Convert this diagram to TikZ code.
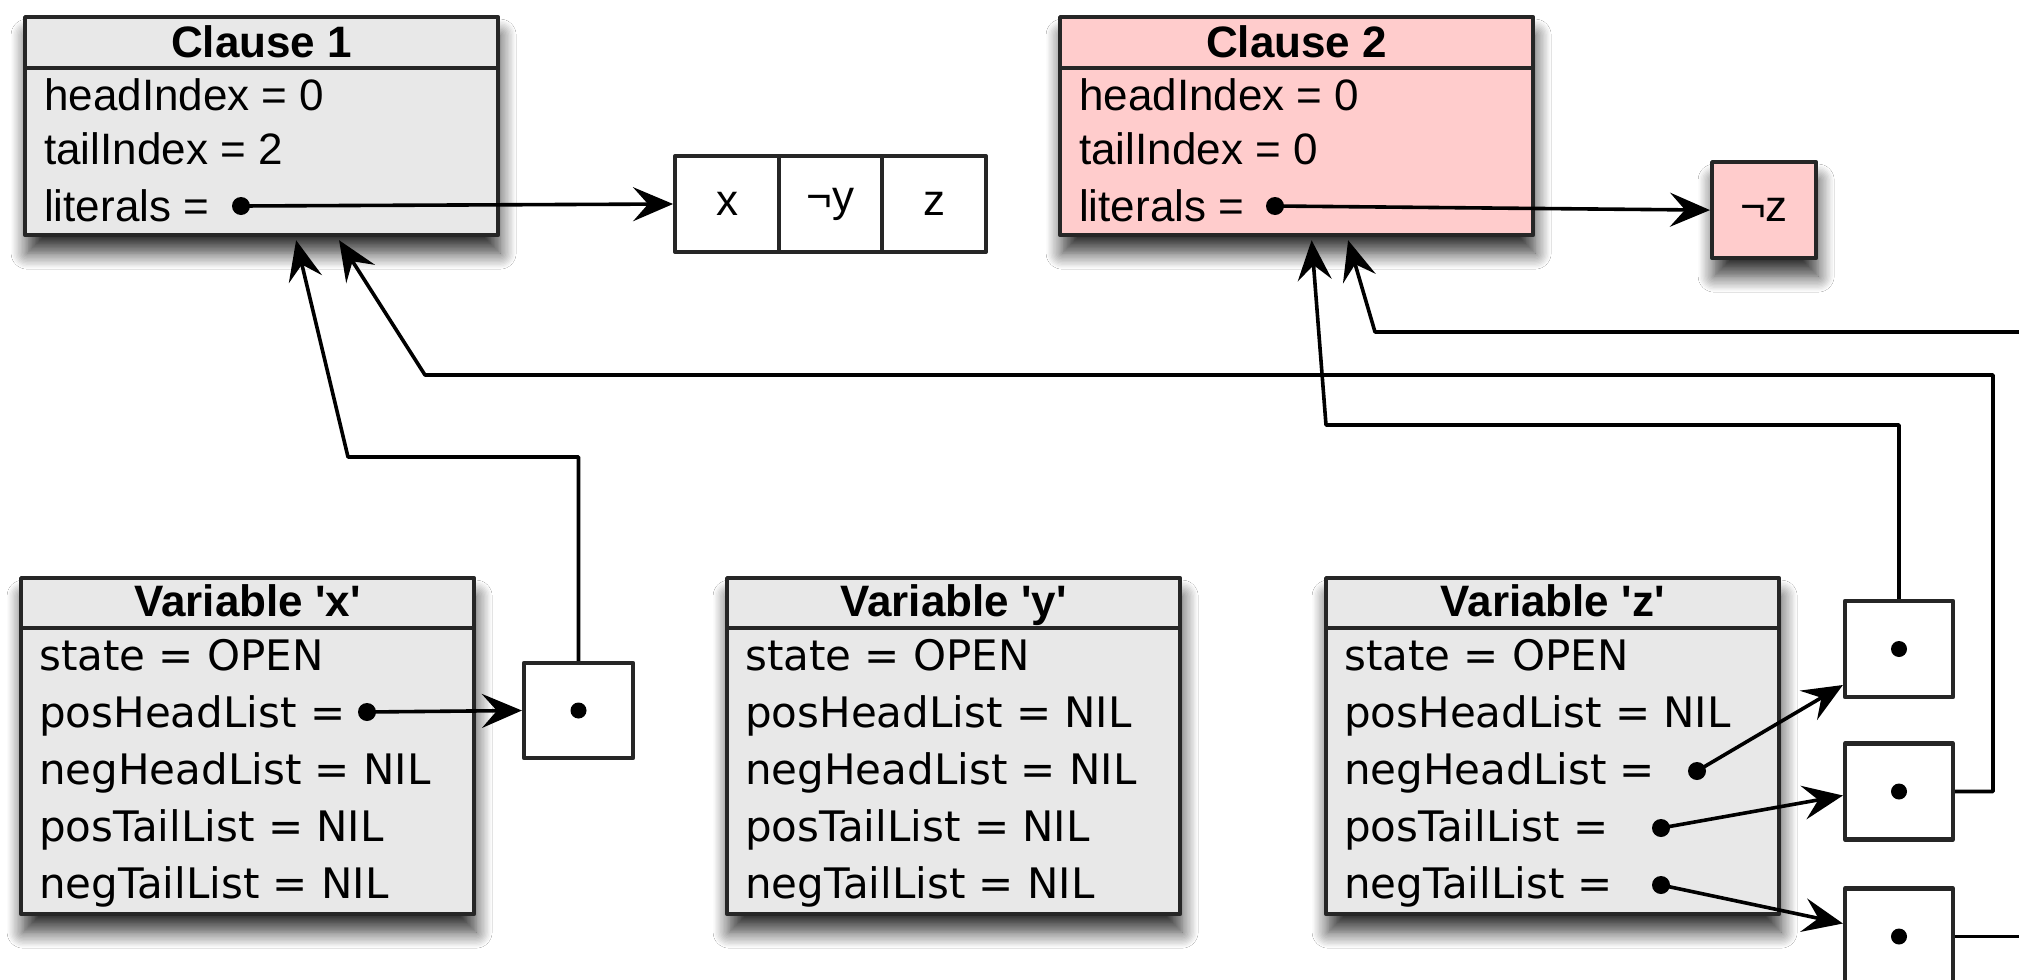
\documentclass[tikz,border=0pt]{standalone}
\usepackage{fontspec}
\setmainfont{Liberation Sans}[Ligatures=TeXOff]
\newfontfamily\varfont{DejaVu Sans}[Ligatures=TeXOff]
\usetikzlibrary{arrows.meta,shadows.blur}
\definecolor{boxgray}{HTML}{E8E8E8}
\definecolor{boxpink}{HTML}{FFCCCC}
\begin{document}
\begin{tikzpicture}[x=1pt,y=-1pt,line join=round,
  objbox/.style={draw=black!85, line width=4.2pt, anchor=north west, inner sep=0pt,
    blur shadow={shadow xshift=2pt, shadow yshift=-18pt, shadow blur radius=16pt, shadow blur steps=12, shadow opacity=80}},
  clausebox/.style={objbox, fill=boxgray, minimum width=473pt, minimum height=218pt},
  varbox/.style={objbox, fill=boxgray, minimum width=453pt, minimum height=336pt},
  ptrbox/.style={draw=black!85, line width=4.2pt, fill=white, minimum width=108pt, minimum height=96pt, inner sep=0pt},
  cellbox/.style={draw=black!85, line width=4.2pt, fill=white, minimum width=103.7pt, minimum height=96pt, inner sep=0pt, font=\fontsize{44}{50}\selectfont},
  dotnode/.style={circle, fill=black, inner sep=0pt, minimum size=18pt},
  ttl/.style={anchor=base, inner sep=0pt, font=\fontsize{44}{50}\selectfont\bfseries},
  crow/.style={anchor=base west, inner sep=0pt, font=\fontsize{44}{50}\selectfont},
  vrow/.style={anchor=base west, inner sep=0pt, font=\varfont\fontsize{42}{50}\selectfont},
  sepline/.style={draw=black!85, line width=4.2pt},
  arr/.style={line width=3.6pt, -{Stealth[length=40pt, width=34pt, inset=15pt]}},
  conn/.style={line width=3.6pt}]
\useasboundingbox (0,0) rectangle (2019,980);
\clip (0,0) rectangle (2019,980);
\fill[white] (0,0) rectangle (2019,980);

% ---------- Clause 1 ----------
\node[clausebox] (c1) at (23,15) {};
\draw[sepline] ([yshift=-53pt]c1.north west) -- ([yshift=-53pt]c1.north east);
\node[ttl] (c1t) at ([yshift=-42pt]c1.north) {Clause 1};
\node[crow] (c1r1) at ([xshift=21pt,yshift=-95pt]c1.north west) {headIndex = 0};
\node[crow] (c1r2) at ([xshift=21pt,yshift=-149pt]c1.north west) {tailIndex = 2};
\node[crow] (c1r3) at ([xshift=21pt,yshift=-206pt]c1.north west) {literals =};
\node[dotnode] (d1) at (241,206) {};

% literal array
\node[cellbox] (lx) at (727,204) {x};
\node[cellbox] (ly) at (830.5,204) {¬y};
\node[cellbox] (lz) at (934,204) {z};

% ---------- Clause 2 ----------
\node[clausebox, fill=boxpink] (c2) at (1058,15) {};
\draw[sepline] ([yshift=-53pt]c2.north west) -- ([yshift=-53pt]c2.north east);
\node[ttl] (c2t) at ([yshift=-42pt]c2.north) {Clause 2};
\node[crow] (c2r1) at ([xshift=21pt,yshift=-95pt]c2.north west) {headIndex = 0};
\node[crow] (c2r2) at ([xshift=21pt,yshift=-149pt]c2.north west) {tailIndex = 0};
\node[crow] (c2r3) at ([xshift=21pt,yshift=-206pt]c2.north west) {literals =};
\node[dotnode] (d2) at (1275,206) {};

\node[objbox, fill=boxpink, minimum width=104pt, minimum height=96pt, font=\fontsize{44}{50}\selectfont] (lnz) at (1710,160) {¬z};

% ---------- Variable x ----------
\node[varbox] (vx) at (19,576) {};
\draw[sepline] ([yshift=-52pt]vx.north west) -- ([yshift=-52pt]vx.north east);
\node[ttl] (vxt) at ([yshift=-40pt]vx.north) {Variable 'x'};
\node[vrow] (vx1) at ([xshift=20pt,yshift=-94pt]vx.north west) {state = OPEN};
\node[vrow] (vx2) at ([xshift=20pt,yshift=-151pt]vx.north west) {posHeadList =};
\node[vrow] (vx3) at ([xshift=20pt,yshift=-208pt]vx.north west) {negHeadList = NIL};
\node[vrow] (vx4) at ([xshift=20pt,yshift=-265pt]vx.north west) {posTailList = NIL};
\node[vrow] (vx5) at ([xshift=20pt,yshift=-322pt]vx.north west) {negTailList = NIL};
\node[dotnode] (dx) at (367,712) {};

% ---------- Variable y ----------
\node[varbox] (vy) at (725,576) {};
\draw[sepline] ([yshift=-52pt]vy.north west) -- ([yshift=-52pt]vy.north east);
\node[ttl] (vyt) at ([yshift=-40pt]vy.north) {Variable 'y'};
\node[vrow] (vy1) at ([xshift=20pt,yshift=-94pt]vy.north west) {state = OPEN};
\node[vrow] (vy2) at ([xshift=20pt,yshift=-151pt]vy.north west) {posHeadList = NIL};
\node[vrow] (vy3) at ([xshift=20pt,yshift=-208pt]vy.north west) {negHeadList = NIL};
\node[vrow] (vy4) at ([xshift=20pt,yshift=-265pt]vy.north west) {posTailList = NIL};
\node[vrow] (vy5) at ([xshift=20pt,yshift=-322pt]vy.north west) {negTailList = NIL};

% ---------- Variable z ----------
\node[varbox] (vz) at (1324,576) {};
\draw[sepline] ([yshift=-52pt]vz.north west) -- ([yshift=-52pt]vz.north east);
\node[ttl] (vzt) at ([yshift=-40pt]vz.north) {Variable 'z'};
\node[vrow] (vz1) at ([xshift=20pt,yshift=-94pt]vz.north west) {state = OPEN};
\node[vrow] (vz2) at ([xshift=20pt,yshift=-151pt]vz.north west) {posHeadList = NIL};
\node[vrow] (vz3) at ([xshift=20pt,yshift=-208pt]vz.north west) {negHeadList =};
\node[vrow] (vz4) at ([xshift=20pt,yshift=-265pt]vz.north west) {posTailList =};
\node[vrow] (vz5) at ([xshift=20pt,yshift=-322pt]vz.north west) {negTailList =};
\node[dotnode] (dz3) at (1697,771) {};
\node[dotnode] (dz4) at (1661,828) {};
\node[dotnode] (dz5) at (1661,885) {};

% ---------- pointer boxes ----------
\node[ptrbox, minimum width=109pt, minimum height=95pt] (px) at (578.5,710.5) {};
\node[dotnode, minimum size=16pt] (pxd) at (px.center) {};
\node[ptrbox] (pz1) at (1899,649) {};
\node[dotnode, minimum size=16pt] (pz1d) at (pz1.center) {};
\node[ptrbox] (pz2) at (1899,791.5) {};
\node[dotnode, minimum size=16pt] (pz2d) at (pz2.center) {};
\node[ptrbox] (pz3) at (1899,936.5) {};
\node[dotnode, minimum size=16pt] (pz3d) at (pz3.center) {};

\coordinate (e1) at (2030,332);
\coordinate (e2) at (2030,936.5);

% ---------- connectors ----------
\draw[arr] (d1.center) -- (lx.west);
\draw[arr] (d2.center) -- (lnz.west);
\draw[arr] (dx.center) -- (px.west);
\draw[arr] (dz3.center) -- ([yshift=-36pt]pz1.west);
\draw[arr] (dz4.center) -- ([yshift=-4pt]pz2.west);
\draw[arr] (dz5.center) -- ([yshift=13pt]pz3.west);

\draw[arr] (px.north) -- (578.5,457) -- (348,457) -- ([xshift=34.5pt,yshift=-3pt]c1.south);
\draw[arr] (pz2.east) -- (1993,791.5) -- (1993,375) -- (425,375) -- ([xshift=77.5pt,yshift=-3pt]c1.south);
\draw[arr] (pz1.north) -- (1899,425) -- (1326,425) -- ([xshift=15pt,yshift=-3pt]c2.south);
\draw[arr] (e1) -- (1375,332) -- ([xshift=51.5pt,yshift=-3pt]c2.south);
\draw[conn] (pz3.east) -- (e2);
\end{tikzpicture}
\end{document}
